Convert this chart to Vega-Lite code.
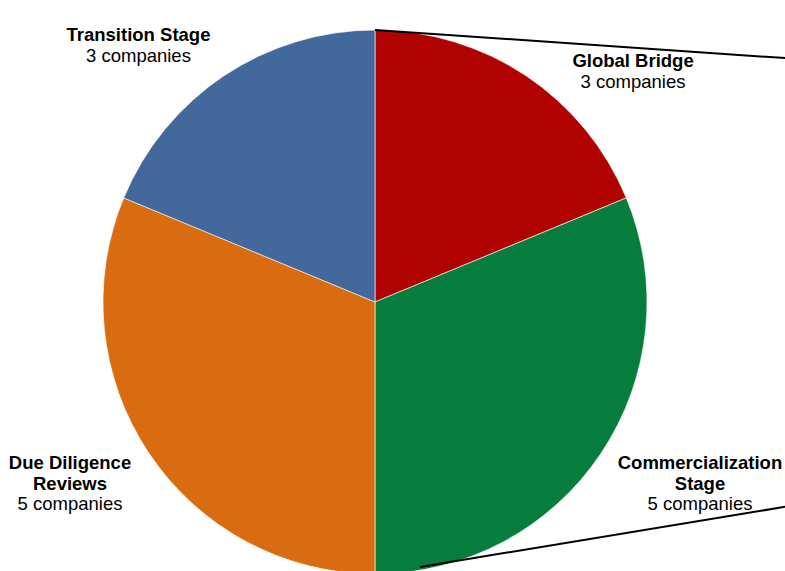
{
  "$schema": "https://vega.github.io/schema/vega-lite/v6.json",
  "width": 750,
  "height": 604,
  "autosize": {"type": "none"},
  "padding": {"left": 0, "top": 0, "right": 35, "bottom": 0},
  "background": "white",
  "config": {"view": {"stroke": null}},
  "datasets": {
    "slices": [
      {"name": "Global Bridge", "title": "Global Bridge", "label": "3 companies", "n": 3, "ord": 1},
      {"name": "Commercialization Stage", "title": "Commercialization\nStage", "label": "5 companies", "n": 5, "ord": 2},
      {"name": "Due Diligence Reviews", "title": "Due Diligence\nReviews", "label": "5 companies", "n": 5, "ord": 3},
      {"name": "Transition Stage", "title": "Transition Stage", "label": "3 companies", "n": 3, "ord": 4}
    ],
    "connectors": [
      {"line": "top", "x": 0.0, "y": 1.0},
      {"line": "top", "x": 1.5625, "y": 0.893},
      {"line": "bottom", "x": 0.1654, "y": -0.974},
      {"line": "bottom", "x": 1.5625, "y": -0.744}
    ]
  },
  "layer": [
    {
      "data": {"name": "slices"},
      "mark": {"type": "arc", "outerRadius": 272, "stroke": "#ffffff", "strokeWidth": 1, "strokeOpacity": 0.6},
      "encoding": {
        "theta": {"field": "n", "type": "quantitative", "stack": true},
        "order": {"field": "ord", "type": "quantitative"},
        "color": {
          "field": "name", "type": "nominal", "legend": null,
          "scale": {
            "domain": ["Global Bridge", "Commercialization Stage", "Due Diligence Reviews", "Transition Stage"],
            "range": ["#B10202", "#067D3C", "#D96B10", "#43699C"]
          }
        }
      }
    },
    {
      "data": {"name": "connectors"},
      "mark": {"type": "line", "color": "#000000", "strokeWidth": 2},
      "encoding": {
        "x": {"field": "x", "type": "quantitative", "axis": null, "scale": {"domain": [-1.3787, 1.3787], "nice": false, "zero": false}},
        "y": {"field": "y", "type": "quantitative", "axis": null, "scale": {"domain": [-1.1103, 1.1103], "nice": false, "zero": false}},
        "detail": {"field": "line", "type": "nominal"}
      }
    },
    {
      "data": {"name": "slices"},
      "mark": {"type": "text", "radius": 330, "font": "Liberation Sans", "fontSize": 18.5, "fontWeight": "bold", "align": "center", "baseline": "alphabetic", "lineBreak": "\n", "lineHeight": 21, "color": "#000000", "dx": 74.7, "dy": 39.4},
      "encoding": {
        "theta": {"field": "n", "type": "quantitative", "stack": true},
        "order": {"field": "ord", "type": "quantitative"},
        "detail": {"field": "name", "type": "nominal"},
        "text": {"condition": {"test": "datum.name === 'Global Bridge'", "field": "title"}, "value": ""}
      }
    },
    {
      "data": {"name": "slices"},
      "mark": {"type": "text", "radius": 330, "font": "Liberation Sans", "fontSize": 18.5, "align": "center", "baseline": "alphabetic", "color": "#000000", "dx": 74.7, "dy": 60.4},
      "encoding": {
        "theta": {"field": "n", "type": "quantitative", "stack": true},
        "order": {"field": "ord", "type": "quantitative"},
        "detail": {"field": "name", "type": "nominal"},
        "text": {"condition": {"test": "datum.name === 'Global Bridge'", "field": "label"}, "value": ""}
      }
    },
    {
      "data": {"name": "slices"},
      "mark": {"type": "text", "radius": 330, "font": "Liberation Sans", "fontSize": 18.5, "fontWeight": "bold", "align": "center", "baseline": "alphabetic", "lineBreak": "\n", "lineHeight": 21, "color": "#000000", "dx": -53.2, "dy": 13.4},
      "encoding": {
        "theta": {"field": "n", "type": "quantitative", "stack": true},
        "order": {"field": "ord", "type": "quantitative"},
        "detail": {"field": "name", "type": "nominal"},
        "text": {"condition": {"test": "datum.name === 'Transition Stage'", "field": "title"}, "value": ""}
      }
    },
    {
      "data": {"name": "slices"},
      "mark": {"type": "text", "radius": 330, "font": "Liberation Sans", "fontSize": 18.5, "align": "center", "baseline": "alphabetic", "color": "#000000", "dx": -53.2, "dy": 34.4},
      "encoding": {
        "theta": {"field": "n", "type": "quantitative", "stack": true},
        "order": {"field": "ord", "type": "quantitative"},
        "detail": {"field": "name", "type": "nominal"},
        "text": {"condition": {"test": "datum.name === 'Transition Stage'", "field": "label"}, "value": ""}
      }
    },
    {
      "data": {"name": "slices"},
      "mark": {"type": "text", "radius": 330, "font": "Liberation Sans", "fontSize": 18.5, "fontWeight": "bold", "align": "center", "baseline": "alphabetic", "lineBreak": "\n", "lineHeight": 21, "color": "#000000", "dx": 50.6, "dy": -16.3},
      "encoding": {
        "theta": {"field": "n", "type": "quantitative", "stack": true},
        "order": {"field": "ord", "type": "quantitative"},
        "detail": {"field": "name", "type": "nominal"},
        "text": {"condition": {"test": "datum.name === 'Commercialization Stage'", "field": "title"}, "value": ""}
      }
    },
    {
      "data": {"name": "slices"},
      "mark": {"type": "text", "radius": 330, "font": "Liberation Sans", "fontSize": 18.5, "align": "center", "baseline": "alphabetic", "color": "#000000", "dx": 50.6, "dy": 24.7},
      "encoding": {
        "theta": {"field": "n", "type": "quantitative", "stack": true},
        "order": {"field": "ord", "type": "quantitative"},
        "detail": {"field": "name", "type": "nominal"},
        "text": {"condition": {"test": "datum.name === 'Commercialization Stage'", "field": "label"}, "value": ""}
      }
    },
    {
      "data": {"name": "slices"},
      "mark": {"type": "text", "radius": 330, "font": "Liberation Sans", "fontSize": 18.5, "fontWeight": "bold", "align": "center", "baseline": "alphabetic", "lineBreak": "\n", "lineHeight": 21, "color": "#000000", "dx": -30.6, "dy": -16.3},
      "encoding": {
        "theta": {"field": "n", "type": "quantitative", "stack": true},
        "order": {"field": "ord", "type": "quantitative"},
        "detail": {"field": "name", "type": "nominal"},
        "text": {"condition": {"test": "datum.name === 'Due Diligence Reviews'", "field": "title"}, "value": ""}
      }
    },
    {
      "data": {"name": "slices"},
      "mark": {"type": "text", "radius": 330, "font": "Liberation Sans", "fontSize": 18.5, "align": "center", "baseline": "alphabetic", "color": "#000000", "dx": -30.6, "dy": 24.7},
      "encoding": {
        "theta": {"field": "n", "type": "quantitative", "stack": true},
        "order": {"field": "ord", "type": "quantitative"},
        "detail": {"field": "name", "type": "nominal"},
        "text": {"condition": {"test": "datum.name === 'Due Diligence Reviews'", "field": "label"}, "value": ""}
      }
    }
  ]
}
